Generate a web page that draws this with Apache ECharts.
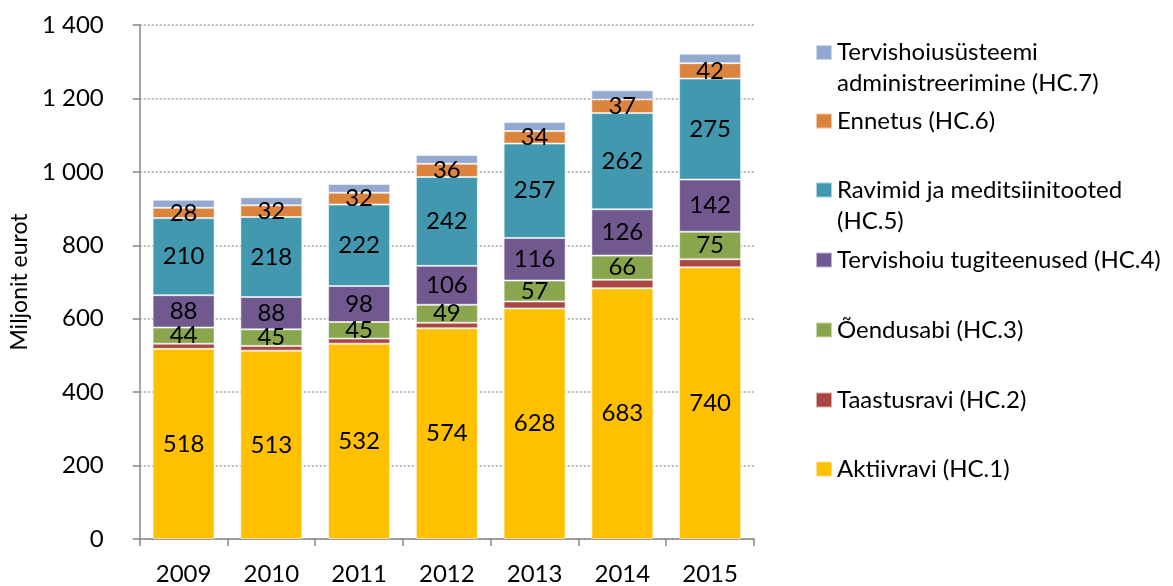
<!DOCTYPE html>
<html>
<head>
    <meta charset="UTF-8">
    <script src="https://cdn.jsdelivr.net/npm/echarts@6/dist/echarts.min.js"></script>
    <style>
        html, body { margin: 0; padding: 0; background: #fff; }
        #main { width: 1173px; height: 586px; }
    </style>
</head>
<body>
<div id="main"></div>

<script type="text/javascript">
    // aastad
    var years = ['2009', '2010', '2011', '2012', '2013', '2014', '2015'];

    // miljonit eurot, loetud jooniselt
    var hc1 = [518, 513, 532, 574, 628, 683, 740];   // Aktiivravi
    var hc2 = [14, 13, 14, 15, 19, 23, 22];           // Taastusravi (silt puudub)
    var hc3 = [44, 45, 45, 49, 57, 66, 75];          // Õendusabi
    var hc4 = [88, 88, 98, 106, 116, 126, 142];      // Tervishoiu tugiteenused
    var hc5 = [210, 218, 222, 242, 257, 262, 275];   // Ravimid
    var hc6 = [28, 32, 32, 36, 34, 37, 42];          // Ennetus
    var hc7 = [22, 22, 24, 24, 25, 25, 26];          // Administreerimine (silt puudub)

    var yTicks = [0, 200, 400, 600, 800, 1000, 1200, 1400];

    var names = [
        'Aktiivravi (HC.1)',
        'Taastusravi (HC.2)',
        'Õendusabi (HC.3)',
        'Tervishoiu tugiteenused (HC.4)',
        'Ravimid ja meditsiinitooted\n(HC.5)',
        'Ennetus (HC.6)',
        'Tervishoiusüsteemi\nadministreerimine (HC.7)'
    ];
    var values = [hc1, hc2, hc3, hc4, hc5, hc6, hc7];
    var colors = ['#FFC000', '#AA4643', '#89A54E', '#71588F', '#4198AF', '#DB843D', '#93A9CF'];
    var showLabel = [true, false, true, true, true, true, false];

    var FONT = 'Lato';
    var FS = 24;

    var series = [];
    for (var i = 0; i < names.length; i++) {
        series.push({
            name: names[i],
            type: 'bar',
            stack: 'kokku',
            barWidth: 62,
            data: values[i],
            itemStyle: {
                color: colors[i],
                borderColor: 'rgba(255,255,255,0.55)',
                borderWidth: 1
            },
            label: {
                show: showLabel[i],
                position: 'inside',
                color: '#000',
                fontFamily: FONT,
                fontSize: FS
            }
        });
    }

    // legendid eraldi, et vahed klapiks;
    // kaherealistele lisan tühja rea ette, siis jääb ikoon esimese rea kõrvale
    var legendTops = [453.5, 384.5, 314.5, 244.5, 143.5, 105.5, 6];
    var legends = [];
    for (var j = 0; j < names.length; j++) {
        var wrapped = names[j].indexOf('\n') >= 0;
        legends.push({
            data: [names[j]],
            left: 815,
            top: legendTops[j],
            padding: 0,
            itemWidth: 16,
            itemHeight: 15,
            icon: 'rect',
            selectedMode: false,
            formatter: wrapped ? function (n) { return ' \n' + n; } : '{name}',
            textStyle: {
                fontFamily: FONT,
                fontSize: FS,
                color: '#000',
                lineHeight: 31
            }
        });
    }

    var myChart = echarts.init(document.getElementById('main'));
    var option = {
        animation: false,
        color: colors,
        legend: legends,
        grid: {
            left: 129.5,
            right: 419,
            top: 25,
            bottom: 45,
            containLabel: false
        },
        xAxis: {
            type: 'category',
            data: years,
            axisLine: { lineStyle: { color: '#888', width: 1.5 } },
            axisTick: { show: true, length: 7, lineStyle: { color: '#888', width: 1.5 } },
            axisLabel: {
                color: '#000',
                fontFamily: FONT,
                fontSize: FS,
                margin: 23
            }
        },
        yAxis: {
            type: 'value',
            min: yTicks[0],
            max: yTicks[yTicks.length - 1],
            interval: yTicks[1] - yTicks[0],
            name: 'Miljonit eurot',
            nameLocation: 'middle',
            nameGap: 108,
            nameTextStyle: { color: '#000', fontFamily: FONT, fontSize: FS - 1 },
            axisLine: { show: true, lineStyle: { color: '#888', width: 1.5 } },
            axisTick: { show: true, length: 7, lineStyle: { color: '#888', width: 1.5 } },
            axisLabel: {
                color: '#000',
                fontFamily: FONT,
                fontSize: FS,
                margin: 36,
                formatter: function (v) {
                    return String(v).replace(/\B(?=(\d{3})+(?!\d))/g, ' ');
                }
            },
            splitLine: {
                show: true,
                lineStyle: { color: '#a0a0a0', width: 1.5, type: [2, 2] }
            }
        },
        series: series
    };
    myChart.setOption(option);
</script>
</body>
</html>
